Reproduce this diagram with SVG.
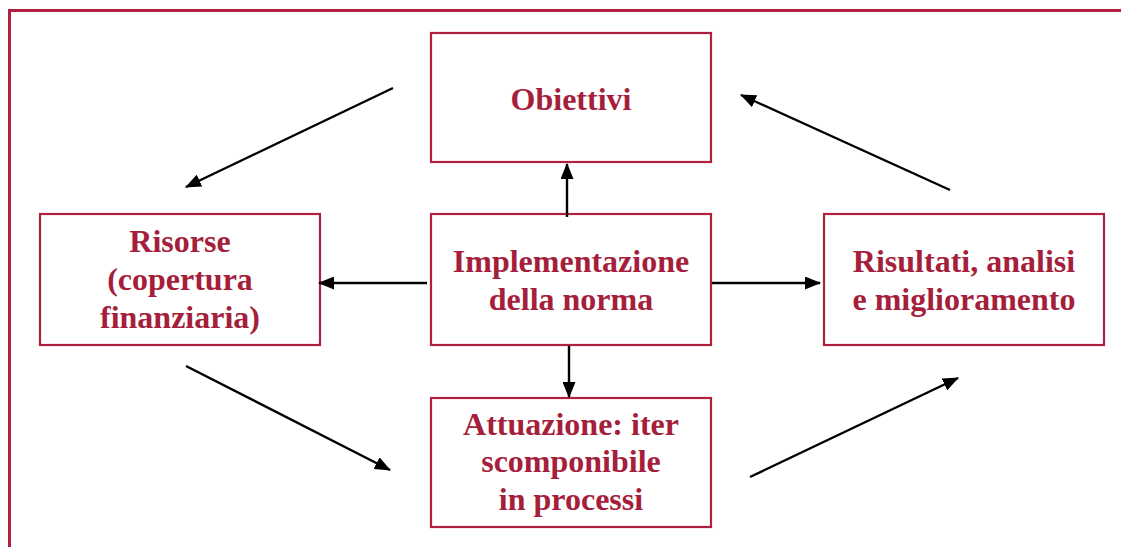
<svg xmlns="http://www.w3.org/2000/svg" width="1121" height="547" viewBox="0 0 1121 547">
<defs>
<style>
.box{fill:#fff;stroke:#b0213f;stroke-width:2.2}
.t{font-family:"Liberation Serif","Times New Roman",serif;font-weight:bold;font-size:32px;fill:#a51f3c;text-anchor:middle}
.c{stroke:#000;stroke-width:2.4;fill:none;marker-end:url(#ah)}
</style>
<marker id="ah" viewBox="0 0 16 13" refX="15" refY="6.5" markerWidth="16" markerHeight="13" markerUnits="userSpaceOnUse" orient="auto">
<path d="M0,0 L16,6.5 L0,13 Z" fill="#000"/>
</marker>
</defs>
<rect x="0" y="0" width="1121" height="547" fill="#fff"/>
<path d="M9.5,560 V10.5 H1130" fill="none" stroke="#b0213f" stroke-width="3"/>
<g id="obiettivi"><rect class="box" x="431" y="33" width="280" height="129"/><text class="t" x="571" y="110">Obiettivi</text></g>
<g id="risorse"><rect class="box" x="40" y="214" width="280" height="131"/><text class="t" x="180" y="252">Risorse</text><text class="t" x="180" y="290">(copertura</text><text class="t" x="180" y="328">finanziaria)</text></g>
<g id="implementazione"><rect class="box" x="431" y="214" width="280" height="131"/><text class="t" x="571" y="272">Implementazione</text><text class="t" x="571" y="310">della norma</text></g>
<g id="risultati"><rect class="box" x="824" y="214" width="280" height="131"/><text class="t" x="964" y="272">Risultati, analisi</text><text class="t" x="964" y="310">e miglioramento</text></g>
<g id="attuazione"><rect class="box" x="431" y="398" width="280" height="129"/><text class="t" x="571" y="435">Attuazione: iter</text><text class="t" x="571" y="472">scomponibile</text><text class="t" x="571" y="510">in processi</text></g>
<g id="connectors">
<line class="c" x1="567" y1="217" x2="567" y2="164"/>
<line class="c" x1="427" y1="283" x2="319" y2="283"/>
<line class="c" x1="712" y1="283" x2="820" y2="283"/>
<line class="c" x1="569" y1="346" x2="569" y2="397"/>
<line class="c" x1="393" y1="88" x2="186" y2="187"/>
<line class="c" x1="950" y1="190" x2="741" y2="95"/>
<line class="c" x1="186" y1="366" x2="390" y2="470"/>
<line class="c" x1="750" y1="477" x2="958" y2="378"/>
</g>
</svg>
